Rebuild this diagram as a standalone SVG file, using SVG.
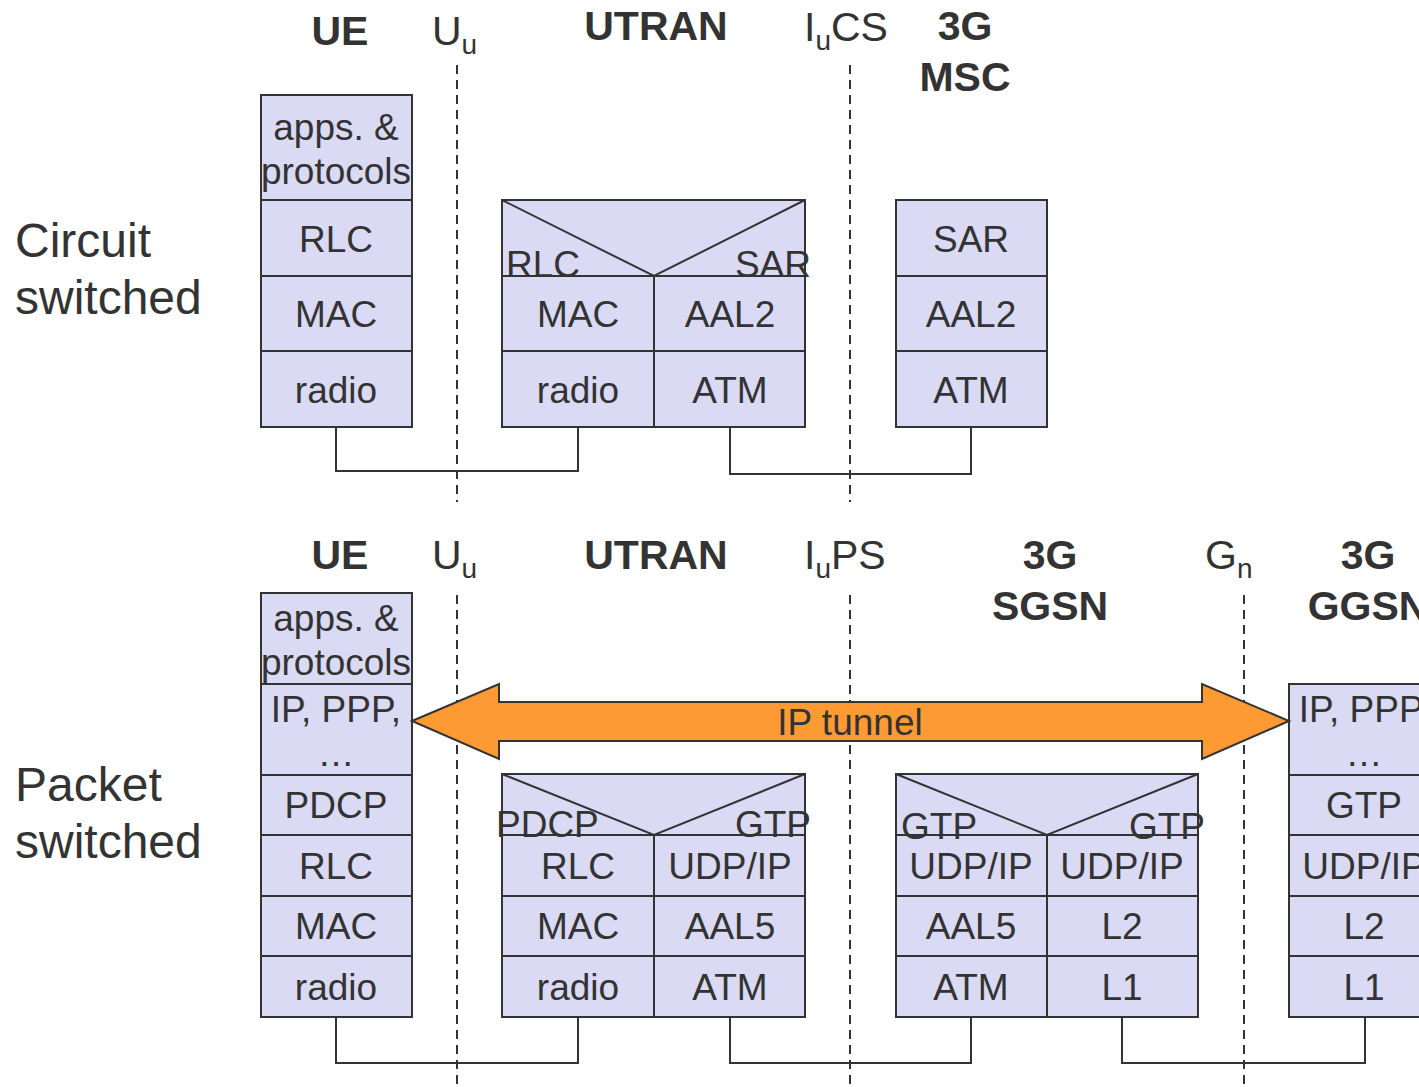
<svg xmlns="http://www.w3.org/2000/svg" width="1419" height="1087" viewBox="0 0 1419 1087">
<style>
text{font-family:"Liberation Sans",Arial,sans-serif;fill:#333}
.cell{fill:#dadaf5;stroke:#333;stroke-width:2}
.ln{fill:none;stroke:#333;stroke-width:2}
.dash{fill:none;stroke:#333;stroke-width:2;stroke-dasharray:9 6}
.t{font-size:37px;text-anchor:middle}
.ts{font-size:37px}
.h{font-size:41px;font-weight:bold;text-anchor:middle}
.i{font-size:41px}
.big{font-size:48px}
</style>
<rect width="1419" height="1087" fill="#fff"/>

<g id="connectors">
<polyline class="ln" points="336,427 336,471 578,471 578,427"/>
<polyline class="ln" points="730,427 730,474 971,474 971,427"/>
<polyline class="ln" points="336,1017 336,1063 578,1063 578,1017"/>
<polyline class="ln" points="730,1017 730,1063 971,1063 971,1017"/>
<polyline class="ln" points="1122,1017 1122,1063 1365,1063 1365,1017"/>
</g>

<g id="interfaces">
<line class="dash" x1="457" y1="65" x2="457" y2="502"/>
<line class="dash" x1="850" y1="65" x2="850" y2="502"/>
<line class="dash" x1="457" y1="595" x2="457" y2="1087"/>
<line class="dash" x1="850" y1="595" x2="850" y2="1087"/>
<line class="dash" x1="1244" y1="595" x2="1244" y2="1087"/>
</g>

<g id="labels">
<text class="big" x="15" y="257">Circuit</text>
<text class="big" x="15" y="314">switched</text>
<text class="big" x="15" y="801">Packet</text>
<text class="big" x="15" y="858">switched</text>
<text class="h" x="340" y="45">UE</text>
<text class="i" x="432" y="45">U<tspan font-size="28" dy="9">u</tspan></text>
<text class="h" x="656" y="40">UTRAN</text>
<text class="i" x="804" y="41">I<tspan font-size="28" dy="9">u</tspan><tspan dy="-9">CS</tspan></text>
<text class="h" x="965" y="40">3G</text>
<text class="h" x="965" y="91">MSC</text>
<text class="h" x="340" y="569">UE</text>
<text class="i" x="432" y="569">U<tspan font-size="28" dy="9">u</tspan></text>
<text class="h" x="656" y="569">UTRAN</text>
<text class="i" x="804" y="569">I<tspan font-size="28" dy="9">u</tspan><tspan dy="-9">PS</tspan></text>
<text class="h" x="1050" y="569">3G</text>
<text class="h" x="1050" y="620">SGSN</text>
<text class="i" x="1205" y="569">G<tspan font-size="28" dy="9">n</tspan></text>
<text class="h" x="1368" y="569">3G</text>
<text class="h" x="1368" y="620">GGSN</text>
</g>

<g id="ue-cs">
<rect class="cell" x="261" y="95" width="151" height="105"/>
<rect class="cell" x="261" y="200" width="151" height="76"/>
<rect class="cell" x="261" y="276" width="151" height="75"/>
<rect class="cell" x="261" y="351" width="151" height="76"/>
<text class="t" x="336" y="140">apps. &amp;</text>
<text class="t" x="336" y="184">protocols</text>
<text class="t" x="336" y="252">RLC</text>
<text class="t" x="336" y="327">MAC</text>
<text class="t" x="336" y="403">radio</text>
</g>

<g id="utran-cs">
<rect class="cell" x="502" y="200" width="303" height="76"/>
<polyline class="ln" points="502,200 654,276 805,200"/>
<rect class="cell" x="502" y="276" width="152" height="75"/>
<rect class="cell" x="654" y="276" width="151" height="75"/>
<rect class="cell" x="502" y="351" width="152" height="76"/>
<rect class="cell" x="654" y="351" width="151" height="76"/>
<text class="ts" x="506" y="277">RLC</text>
<text class="ts" x="811" y="277" text-anchor="end">SAR</text>
<text class="t" x="578" y="327">MAC</text>
<text class="t" x="730" y="327">AAL2</text>
<text class="t" x="578" y="403">radio</text>
<text class="t" x="730" y="403">ATM</text>
</g>

<g id="msc">
<rect class="cell" x="896" y="200" width="151" height="76"/>
<rect class="cell" x="896" y="276" width="151" height="75"/>
<rect class="cell" x="896" y="351" width="151" height="76"/>
<text class="t" x="971" y="252">SAR</text>
<text class="t" x="971" y="327">AAL2</text>
<text class="t" x="971" y="403">ATM</text>
</g>

<g id="ue-ps">
<rect class="cell" x="261" y="593" width="151" height="91"/>
<rect class="cell" x="261" y="684" width="151" height="91"/>
<rect class="cell" x="261" y="775" width="151" height="60"/>
<rect class="cell" x="261" y="835" width="151" height="61"/>
<rect class="cell" x="261" y="896" width="151" height="60"/>
<rect class="cell" x="261" y="956" width="151" height="61"/>
<text class="t" x="336" y="631">apps. &amp;</text>
<text class="t" x="336" y="675">protocols</text>
<text class="t" x="336" y="722">IP, PPP,</text>
<text class="t" x="336" y="766">…</text>
<text class="t" x="336" y="818">PDCP</text>
<text class="t" x="336" y="879">RLC</text>
<text class="t" x="336" y="939">MAC</text>
<text class="t" x="336" y="1000">radio</text>
</g>

<g id="utran-ps">
<rect class="cell" x="502" y="774" width="303" height="61"/>
<polyline class="ln" points="502,774 654,835 805,774"/>
<rect class="cell" x="502" y="835" width="152" height="61"/>
<rect class="cell" x="654" y="835" width="151" height="61"/>
<rect class="cell" x="502" y="896" width="152" height="60"/>
<rect class="cell" x="654" y="896" width="151" height="60"/>
<rect class="cell" x="502" y="956" width="152" height="61"/>
<rect class="cell" x="654" y="956" width="151" height="61"/>
<text class="ts" x="496" y="837">PDCP</text>
<text class="ts" x="811" y="837" text-anchor="end">GTP</text>
<text class="t" x="578" y="879">RLC</text>
<text class="t" x="730" y="879">UDP/IP</text>
<text class="t" x="578" y="939">MAC</text>
<text class="t" x="730" y="939">AAL5</text>
<text class="t" x="578" y="1000">radio</text>
<text class="t" x="730" y="1000">ATM</text>
</g>

<g id="sgsn">
<rect class="cell" x="896" y="774" width="302" height="61"/>
<polyline class="ln" points="896,774 1047,835 1198,774"/>
<rect class="cell" x="896" y="835" width="151" height="61"/>
<rect class="cell" x="1047" y="835" width="151" height="61"/>
<rect class="cell" x="896" y="896" width="151" height="60"/>
<rect class="cell" x="1047" y="896" width="151" height="60"/>
<rect class="cell" x="896" y="956" width="151" height="61"/>
<rect class="cell" x="1047" y="956" width="151" height="61"/>
<text class="ts" x="901" y="839">GTP</text>
<text class="ts" x="1205" y="839" text-anchor="end">GTP</text>
<text class="t" x="971" y="879">UDP/IP</text>
<text class="t" x="1122" y="879">UDP/IP</text>
<text class="t" x="971" y="939">AAL5</text>
<text class="t" x="1122" y="939">L2</text>
<text class="t" x="971" y="1000">ATM</text>
<text class="t" x="1122" y="1000">L1</text>
</g>

<g id="ggsn">
<rect class="cell" x="1289" y="684" width="151" height="91"/>
<rect class="cell" x="1289" y="775" width="151" height="60"/>
<rect class="cell" x="1289" y="835" width="151" height="61"/>
<rect class="cell" x="1289" y="896" width="151" height="60"/>
<rect class="cell" x="1289" y="956" width="151" height="61"/>
<text class="t" x="1364" y="722">IP, PPP,</text>
<text class="t" x="1364" y="766">…</text>
<text class="t" x="1364" y="818">GTP</text>
<text class="t" x="1364" y="879">UDP/IP</text>
<text class="t" x="1364" y="939">L2</text>
<text class="t" x="1364" y="1000">L1</text>
</g>

<g id="ip-tunnel">
<polygon points="412,721 499,684 499,702 1202,702 1202,684 1289,721 1202,759 1202,741 499,741 499,759" fill="#fd9a33" stroke="#333" stroke-width="2" stroke-linejoin="miter"/>
<text class="t" x="850" y="735">IP tunnel</text>
</g>
</svg>
